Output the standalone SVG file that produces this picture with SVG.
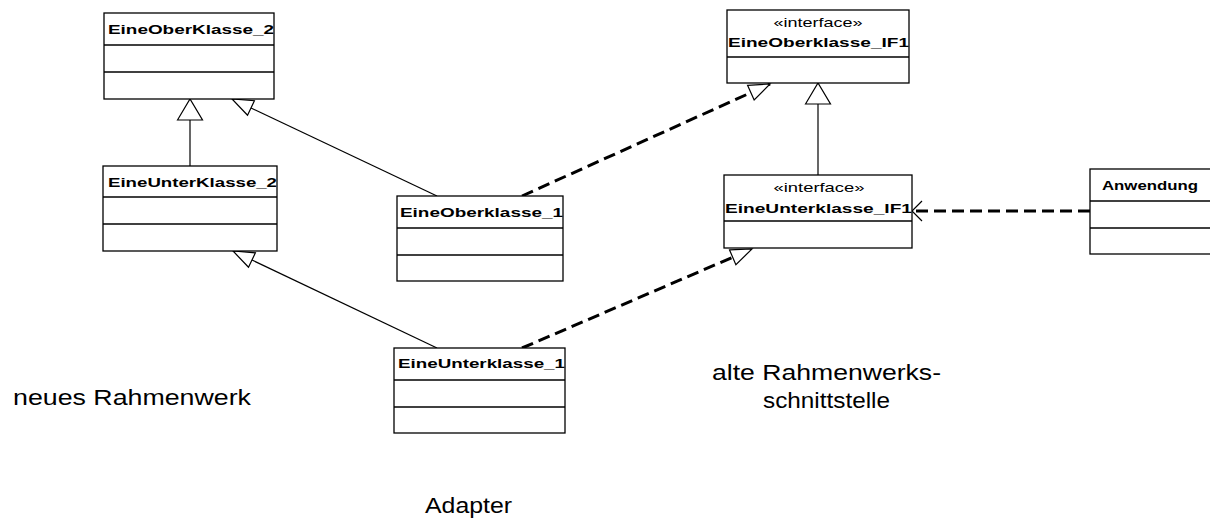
<svg xmlns="http://www.w3.org/2000/svg" width="1210" height="518" viewBox="0 0 1210 518">
  <style>
    .box { fill: #ffffff; stroke: #000000; stroke-width: 1.3; }
    .sep { stroke: #000000; stroke-width: 1.3; fill: none; }
    .name { font-family: "Liberation Sans", Arial, sans-serif; font-size: 13.5px; font-weight: bold; fill: #000000; }
    .stereo { font-family: "Liberation Sans", Arial, sans-serif; font-size: 13.5px; fill: #000000; text-anchor: middle; }
    .note { font-family: "Liberation Sans", Arial, sans-serif; font-size: 22px; fill: #000000; }
    .solid { stroke: #000000; stroke-width: 1.2; fill: none; }
    .dashed { stroke: #000000; stroke-width: 3; stroke-dasharray: 12 6; fill: none; }
    .open { stroke: #000000; stroke-width: 1.2; fill: none; }
  </style>
  <defs>
    <!-- hollow generalization / realization heads, tip at the line end -->
    <marker id="gen" markerUnits="userSpaceOnUse" markerWidth="24" markerHeight="28" refX="21" refY="13" orient="auto" overflow="visible">
      <path d="M0,0.5 L21,13 L0,25.5 Z" fill="#ffffff" stroke="#000000" stroke-width="1.2"/>
    </marker>
    <marker id="genD" markerUnits="userSpaceOnUse" markerWidth="24" markerHeight="20" refX="21" refY="9" orient="auto" overflow="visible">
      <path d="M0,1 L21,9 L0,17 Z" fill="#ffffff" stroke="#000000" stroke-width="1.2"/>
    </marker>
  </defs>

  <rect width="1210" height="518" fill="#ffffff"/>

  <!-- connectors -->
  <g id="connectors">
    <!-- EineUnterKlasse_2 generalizes EineOberKlasse_2 -->
    <line class="solid" x1="190" y1="166" x2="190" y2="99" marker-end="url(#gen)"/>
    <!-- EineOberklasse_1 generalizes EineOberKlasse_2 -->
    <line class="solid" x1="437" y1="196" x2="232" y2="99" marker-end="url(#genD)"/>
    <!-- EineOberklasse_1 realizes EineOberklasse_IF1 -->
    <line class="dashed" x1="522" y1="196" x2="770" y2="84" marker-end="url(#genD)"/>
    <!-- EineUnterklasse_IF1 extends EineOberklasse_IF1 -->
    <line class="solid" x1="818" y1="175" x2="818" y2="83" marker-end="url(#gen)"/>
    <!-- EineUnterklasse_1 generalizes EineUnterKlasse_2 -->
    <line class="solid" x1="437" y1="348" x2="233" y2="251" marker-end="url(#genD)"/>
    <!-- EineUnterklasse_1 realizes EineUnterklasse_IF1 -->
    <line class="dashed" x1="522" y1="348" x2="752" y2="249" marker-end="url(#genD)"/>
    <!-- Anwendung depends on EineUnterklasse_IF1 -->
    <line class="dashed" x1="1090" y1="211" x2="914" y2="211"/>
    <path class="open" d="M922,201 L912,211 L922,221"/>
  </g>

  <g id="EineOberKlasse_2">
    <rect class="box" x="104" y="13" width="170" height="86"/>
    <line class="sep" x1="104" y1="45" x2="274" y2="45"/>
    <line class="sep" x1="104" y1="72" x2="274" y2="72"/>
    <text class="name" x="108" y="34" textLength="166" lengthAdjust="spacingAndGlyphs">EineOberKlasse_2</text>
  </g>

  <g id="EineUnterKlasse_2">
    <rect class="box" x="103" y="166" width="174" height="85"/>
    <line class="sep" x1="103" y1="197" x2="277" y2="197"/>
    <line class="sep" x1="103" y1="224" x2="277" y2="224"/>
    <text class="name" x="108" y="187" textLength="169" lengthAdjust="spacingAndGlyphs">EineUnterKlasse_2</text>
  </g>

  <g id="EineOberklasse_1">
    <rect class="box" x="397" y="196" width="166" height="85"/>
    <line class="sep" x1="397" y1="228" x2="563" y2="228"/>
    <line class="sep" x1="397" y1="255" x2="563" y2="255"/>
    <text class="name" x="400" y="217" textLength="163" lengthAdjust="spacingAndGlyphs">EineOberklasse_1</text>
  </g>

  <g id="EineUnterklasse_1">
    <rect class="box" x="394" y="348" width="171" height="85"/>
    <line class="sep" x1="394" y1="380" x2="565" y2="380"/>
    <line class="sep" x1="394" y1="407" x2="565" y2="407"/>
    <text class="name" x="398" y="368" textLength="167" lengthAdjust="spacingAndGlyphs">EineUnterklasse_1</text>
  </g>

  <g id="EineOberklasse_IF1">
    <rect class="box" x="727" y="10" width="182" height="73"/>
    <line class="sep" x1="727" y1="57" x2="909" y2="57"/>
    <text class="stereo" x="818" y="27" textLength="89" lengthAdjust="spacingAndGlyphs">«interface»</text>
    <text class="name" x="728" y="47" textLength="181" lengthAdjust="spacingAndGlyphs">EineOberklasse_IF1</text>
  </g>

  <g id="EineUnterklasse_IF1">
    <rect class="box" x="724" y="175" width="188" height="73"/>
    <line class="sep" x1="724" y1="221" x2="912" y2="221"/>
    <text class="stereo" x="819" y="192" textLength="91" lengthAdjust="spacingAndGlyphs">«interface»</text>
    <text class="name" x="725" y="213" textLength="187" lengthAdjust="spacingAndGlyphs">EineUnterklasse_IF1</text>
  </g>

  <g id="Anwendung">
    <rect class="box" x="1090" y="169" width="130" height="85"/>
    <line class="sep" x1="1090" y1="201" x2="1220" y2="201"/>
    <line class="sep" x1="1090" y1="228" x2="1220" y2="228"/>
    <text class="name" x="1102" y="190" textLength="96" lengthAdjust="spacingAndGlyphs">Anwendung</text>
  </g>

  <!-- free-standing labels -->
  <g id="labels">
    <text class="note" x="13" y="405" textLength="238" lengthAdjust="spacingAndGlyphs">neues Rahmenwerk</text>
    <text class="note" x="712" y="380" textLength="229" lengthAdjust="spacingAndGlyphs">alte Rahmenwerks-</text>
    <text class="note" x="763" y="408" textLength="127" lengthAdjust="spacingAndGlyphs">schnittstelle</text>
    <text class="note" x="425" y="513" textLength="87" lengthAdjust="spacingAndGlyphs">Adapter</text>
  </g>
</svg>
